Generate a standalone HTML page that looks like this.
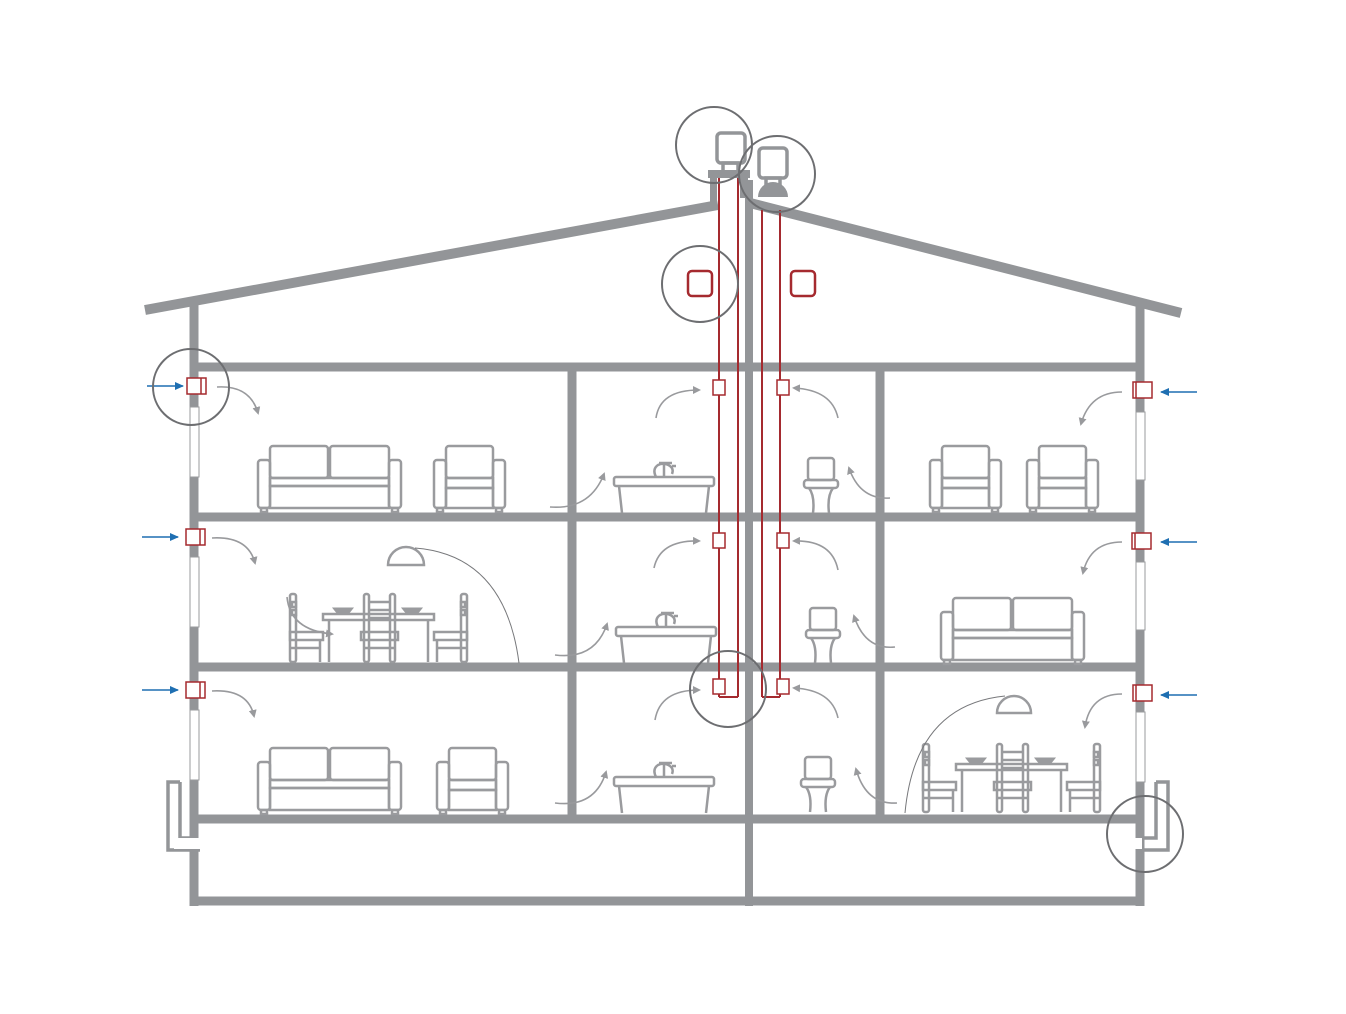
<!DOCTYPE html>
<html><head><meta charset="utf-8"><style>html,body{margin:0;padding:0;background:#fff}svg{display:block}</style></head>
<body>
<svg width="1346" height="1014" viewBox="0 0 1346 1014" xmlns="http://www.w3.org/2000/svg">
<defs>
<marker id="ah" markerWidth="8" markerHeight="8" refX="6" refY="4" orient="auto" markerUnits="userSpaceOnUse"><path d="M0,0 L8,4 L0,8 z" fill="#999a9d"/></marker>
<marker id="bh" markerWidth="10" markerHeight="10" refX="8" refY="5" orient="auto" markerUnits="userSpaceOnUse"><path d="M0,1 L9,5 L0,9 z" fill="#1f6fb2"/></marker>
<g id="sofa" fill="none" stroke="#9a9b9e" stroke-width="2.5">
<rect x="0" y="14" width="12" height="48" rx="3"/><rect x="131" y="14" width="12" height="48" rx="3"/>
<rect x="12" y="0" width="58" height="32" rx="3"/><rect x="72" y="0" width="59" height="32" rx="3"/>
<rect x="12" y="32" width="119" height="8"/><rect x="12" y="40" width="119" height="22"/>
<rect x="3" y="62" width="6" height="4"/><rect x="134" y="62" width="6" height="4"/>
</g>
<g id="arm" fill="none" stroke="#9a9b9e" stroke-width="2.5">
<rect x="0" y="14" width="12" height="48" rx="3"/><rect x="59" y="14" width="12" height="48" rx="3"/>
<rect x="12" y="0" width="47" height="32" rx="3"/><rect x="12" y="32" width="47" height="10"/><rect x="12" y="42" width="47" height="20"/>
<rect x="3" y="62" width="6" height="4"/><rect x="62" y="62" width="6" height="4"/>
</g>
<g id="tub" fill="none" stroke="#9a9b9e" stroke-width="2.5">
<rect x="0" y="0" width="100" height="9" rx="2"/><path d="M5 9 L8 36 M92 36 L95 9"/>
<path d="M42 0 Q38 -8 44 -12 Q50 -15 56 -11 Q60 -8 58 -3 M50 -14 L50 0 M45 -14 L58 -14 M58 -11 L62 -11"/>
</g>
<g id="toilet" fill="none" stroke="#9a9b9e" stroke-width="2.5">
<rect x="4" y="0" width="26" height="22" rx="3"/><rect x="0" y="22" width="34" height="8" rx="3"/>
<path d="M5 30 Q11 38 9 55 M25 55 Q23 38 29 30"/>
</g>
<g id="dining" fill="none" stroke="#9a9b9e" stroke-width="2.5">
<rect x="-33" y="-68" width="6" height="68" rx="2"/><rect x="-31" y="-60" width="4" height="5"/><rect x="-31" y="-52" width="4" height="5"/>
<rect x="-33" y="-30" width="33" height="8"/><line x1="-33" y1="-14" x2="-2" y2="-14"/><line x1="-3" y1="-22" x2="-3" y2="0"/>
<rect x="0" y="-48" width="111" height="6"/><line x1="6" y1="-42" x2="6" y2="0"/><line x1="105" y1="-42" x2="105" y2="0"/>
<rect x="41" y="-68" width="5" height="68" rx="2"/><rect x="67" y="-68" width="5" height="68" rx="2"/>
<line x1="46" y1="-60" x2="67" y2="-60"/><line x1="46" y1="-52" x2="67" y2="-52"/><line x1="46" y1="-44" x2="67" y2="-44"/>
<rect x="38" y="-30" width="37" height="8"/><line x1="41" y1="-14" x2="72" y2="-14"/>
<rect x="138" y="-68" width="6" height="68" rx="2"/><rect x="138" y="-60" width="4" height="5"/><rect x="138" y="-52" width="4" height="5"/>
<rect x="111" y="-30" width="33" height="8"/><line x1="113" y1="-14" x2="144" y2="-14"/><line x1="114" y1="-22" x2="114" y2="0"/>
<path d="M10 -54 L30 -54 L26 -49 L14 -49 z M79 -54 L99 -54 L95 -49 L83 -49 z" fill="#9a9b9e" stroke-width="1"/>
</g>
</defs>

<!-- structure -->
<g stroke="#939598" fill="none" stroke-linecap="butt">
<line x1="145" y1="310" x2="718" y2="205" stroke-width="10"/>
<line x1="750" y1="203" x2="1181" y2="313" stroke-width="10"/>
<line x1="194" y1="305" x2="194" y2="906" stroke-width="9"/>
<line x1="1140" y1="305" x2="1140" y2="906" stroke-width="9"/>
<line x1="194" y1="367" x2="1140" y2="367" stroke-width="9"/>
<line x1="194" y1="517" x2="1140" y2="517" stroke-width="9"/>
<line x1="194" y1="667" x2="1140" y2="667" stroke-width="9"/>
<line x1="194" y1="819" x2="1140" y2="819" stroke-width="9"/>
<line x1="190" y1="901" x2="1144" y2="901" stroke-width="9"/>
<line x1="572" y1="367" x2="572" y2="819" stroke-width="9"/>
<line x1="880" y1="367" x2="880" y2="819" stroke-width="9"/>
<line x1="749" y1="180" x2="749" y2="906" stroke-width="8"/>
<!-- chimney base plate -->
<rect x="708" y="170" width="42" height="8" fill="#939598" stroke="none"/>
<rect x="710" y="176" width="7" height="28" fill="#939598" stroke="none"/>
<rect x="740" y="176" width="8" height="22" fill="#939598" stroke="none"/>
<rect x="717" y="133" width="28" height="30" rx="4" stroke-width="3.5"/>
<rect x="723" y="163" width="15" height="10" stroke-width="3.5"/>
<rect x="759" y="148" width="28" height="30" rx="4" stroke-width="3.5"/>
<rect x="766" y="178" width="14" height="9" stroke-width="3.5"/>
<!-- basement vents -->
<path d="M180 782 L168 782 L168 850 L200 850 M180 782 L180 838 L196 838" stroke-width="3.5"/>
<path d="M1156 782 L1168 782 L1168 850 L1140 850 M1156 782 L1156 838 L1144 838" stroke-width="3.5"/>
</g>
<path d="M758 197 A15 15 0 0 1 788 197 z" fill="#939598"/>
<!-- white gaps -->
<rect x="174" y="838" width="40" height="11" fill="#fff"/>
<rect x="1130" y="838" width="12" height="11" fill="#fff"/>

<!-- windows -->
<g fill="#fff" stroke="#9a9b9e" stroke-width="1">
<rect x="190" y="407" width="9" height="70"/><rect x="190" y="557" width="9" height="70"/><rect x="190" y="710" width="9" height="70"/>
<rect x="1136" y="412" width="9" height="68"/><rect x="1136" y="562" width="9" height="68"/><rect x="1136" y="712" width="9" height="70"/>
</g>

<!-- pipes -->
<g fill="none" stroke="#a52a2f" stroke-width="2">
<line x1="719" y1="178" x2="719" y2="697"/><line x1="738" y1="178" x2="738" y2="697"/><line x1="719" y1="697" x2="738" y2="697"/>
<line x1="762" y1="210" x2="762" y2="697"/><line x1="780" y1="210" x2="780" y2="697"/><line x1="762" y1="697" x2="780" y2="697"/>
<rect x="688" y="271" width="24" height="25" rx="4" stroke-width="2.5"/>
<rect x="791" y="271" width="24" height="25" rx="4" stroke-width="2.5"/>
</g>
<g fill="#fff" stroke="#a52a2f" stroke-width="1.5">
<rect x="713" y="380" width="12" height="15"/><rect x="777" y="380" width="12" height="15"/>
<rect x="713" y="533" width="12" height="15"/><rect x="777" y="533" width="12" height="15"/>
<rect x="713" y="679" width="12" height="15"/><rect x="777" y="679" width="12" height="15"/>
<rect x="187" y="378" width="19" height="16"/><line x1="201" y1="378" x2="201" y2="394"/>
<rect x="186" y="529" width="19" height="16"/><line x1="200" y1="529" x2="200" y2="545"/>
<rect x="186" y="682" width="19" height="16"/><line x1="200" y1="682" x2="200" y2="698"/>
<rect x="1133" y="382" width="19" height="16"/><line x1="1136" y1="382" x2="1136" y2="398"/>
<rect x="1132" y="533" width="19" height="16"/><line x1="1135" y1="533" x2="1135" y2="549"/>
<rect x="1133" y="685" width="19" height="16"/><line x1="1136" y1="685" x2="1136" y2="701"/>
</g>

<!-- blue arrows -->
<g stroke="#1f6fb2" stroke-width="1.6" marker-end="url(#bh)">
<line x1="147" y1="386" x2="183" y2="386"/><line x1="142" y1="537" x2="178" y2="537"/><line x1="142" y1="690" x2="178" y2="690"/>
<line x1="1197" y1="392" x2="1161" y2="392"/><line x1="1197" y1="542" x2="1161" y2="542"/><line x1="1197" y1="695" x2="1161" y2="695"/>
</g>

<!-- furniture -->
<use href="#sofa" x="258" y="446"/><use href="#arm" x="434" y="446"/>
<use href="#sofa" x="258" y="748"/><use href="#arm" x="437" y="748"/>
<use href="#arm" x="930" y="446"/><use href="#arm" x="1027" y="446"/>
<use href="#sofa" x="941" y="598"/>
<use href="#tub" x="614" y="477"/><use href="#tub" x="616" y="627"/><use href="#tub" x="614" y="777"/>
<use href="#toilet" x="804" y="458"/><use href="#toilet" x="806" y="608"/><use href="#toilet" x="801" y="757"/>
<use href="#dining" x="323" y="662"/><use href="#dining" x="956" y="812"/>
<!-- lamps -->
<path d="M388 565 A18 18 0 0 1 424 565 z" fill="none" stroke="#9a9b9e" stroke-width="2.5"/>
<path d="M415 548 Q505 555 519 663" fill="none" stroke="#77787b" stroke-width="1"/>
<path d="M997 713 A17 17 0 0 1 1031 713 z" fill="none" stroke="#9a9b9e" stroke-width="2.5"/>
<path d="M1005 696 Q915 705 905 813" fill="none" stroke="#77787b" stroke-width="1"/>

<!-- gray flow arrows -->
<g fill="none" stroke="#999a9d" stroke-width="1.6" marker-end="url(#ah)">
<path d="M217 387 Q250 385 258 413"/><path d="M550 507 Q590 510 604 474"/><path d="M656 418 Q660 390 699 390"/>
<path d="M838 418 Q832 390 794 388"/><path d="M890 498 Q860 500 849 468"/><path d="M1122 392 Q1090 392 1081 424"/>
<path d="M212 538 Q248 536 255 563"/><path d="M555 655 Q595 660 607 624"/><path d="M654 568 Q660 540 699 541"/>
<path d="M838 570 Q832 540 794 541"/><path d="M895 647 Q865 650 854 616"/><path d="M1122 542 Q1090 542 1083 573"/>
<path d="M287 597 Q290 630 332 634"/>
<path d="M212 691 Q248 689 254 716"/><path d="M555 803 Q595 808 606 772"/><path d="M655 720 Q660 690 699 690"/>
<path d="M838 718 Q832 690 794 688"/><path d="M897 803 Q866 805 856 769"/><path d="M1122 694 Q1090 694 1085 727"/>
</g>

<!-- highlight circles -->
<g fill="none" stroke="#6d6e71" stroke-width="2">
<circle cx="714" cy="145" r="38"/><circle cx="777" cy="174" r="38"/><circle cx="700" cy="284" r="38"/>
<circle cx="191" cy="387" r="38"/><circle cx="728" cy="689" r="38"/><circle cx="1145" cy="834" r="38"/>
</g>
</svg>
</body></html>
